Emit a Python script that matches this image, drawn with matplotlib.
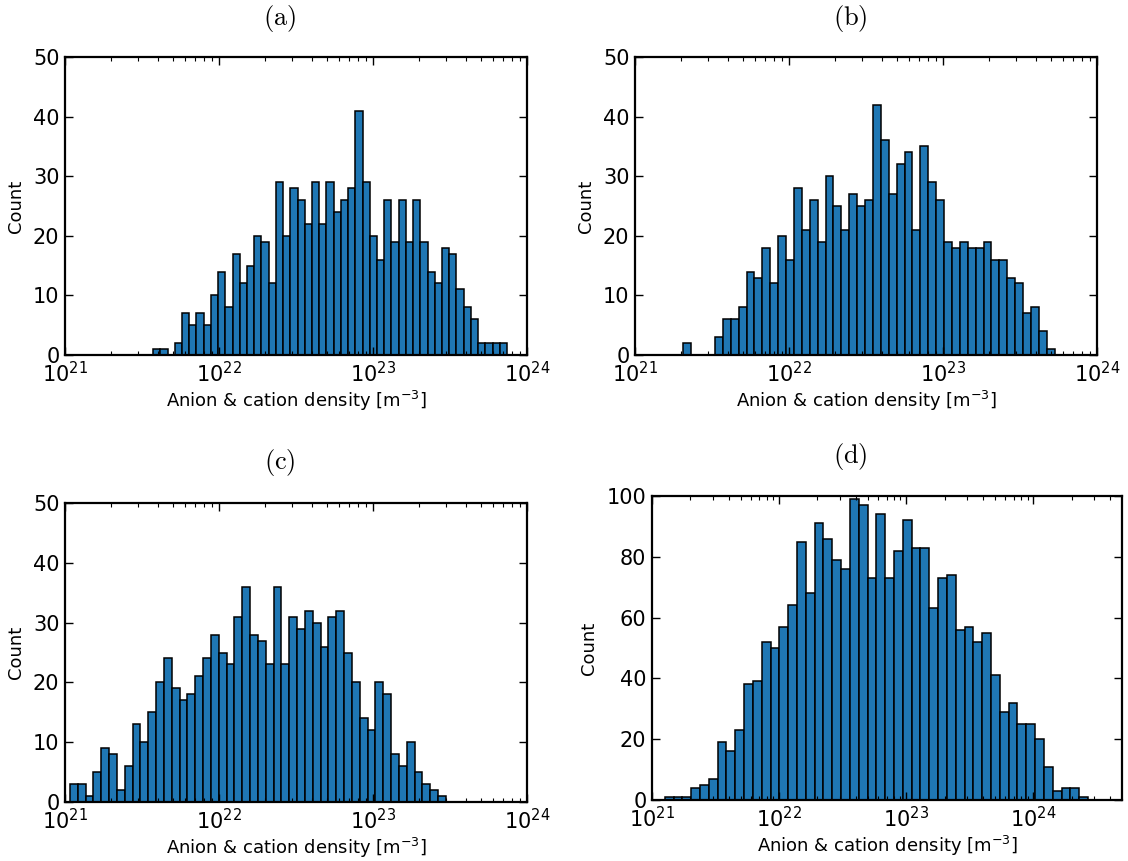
import matplotlib
matplotlib.use("Agg")
import matplotlib.pyplot as plt
import numpy as np

# histogram counts per log-spaced bin, one list per panel
counts_a = [1, 1, 0, 2, 7, 5, 7, 5, 10, 14, 8, 17, 12, 15, 20, 19, 12, 29, 20, 28,
            26, 22, 29, 22, 29, 24, 26, 28, 41, 29, 20, 16, 26, 19, 26, 19, 26, 19, 14, 12,
            18, 17, 11, 8, 6, 2, 2, 2, 2]
counts_b = [2, 0, 0, 0, 3, 6, 6, 8, 14, 13, 18, 12, 20, 16, 28, 21, 26, 19, 30, 25,
            21, 27, 25, 26, 42, 36, 27, 32, 34, 21, 35, 29, 26, 19, 18, 19, 18, 18, 19, 16,
            16, 13, 12, 7, 8, 4, 1]
counts_c = [3, 3, 1, 5, 9, 8, 2, 6, 13, 10, 15, 20, 24, 19, 17, 18, 21, 24, 28, 25,
            23, 31, 36, 28, 27, 23, 36, 23, 31, 29, 32, 30, 26, 31, 32, 25, 20, 14, 12, 20,
            18, 8, 6, 10, 5, 3, 2, 1]
counts_d = [1, 1, 1, 4, 5, 7, 19, 16, 23, 38, 39, 52, 50, 57, 64, 85, 68, 91, 86, 79,
            76, 99, 97, 73, 94, 73, 82, 92, 83, 83, 63, 73, 74, 56, 57, 52, 55, 41, 29, 32,
            25, 25, 20, 11, 3, 4, 4, 1]

# log10 of the first and last bin edge for each panel
log_range_a = (21.572, 23.870)
log_range_b = (21.314, 23.725)
log_range_c = (21.032, 23.474)
log_range_d = (21.100, 24.430)

panel_labels = ["(a)", "(b)", "(c)", "(d)"]
xlabel = r"Anion & cation density [m$^{-3}$]"

W, H = 1128, 861
fig = plt.figure(figsize=(W / 100, H / 100), dpi=100)


def px_axes(left, top, right, bottom):
    return fig.add_axes([left / W, 1 - bottom / H, (right - left) / W, (bottom - top) / H])


def draw_panel(ax, counts, log_range, xlim, ylim, yticks, fs_tick=15, fs_label=13):
    edges = np.logspace(log_range[0], log_range[1], len(counts) + 1)
    ax.bar(edges[:-1], counts, width=np.diff(edges), align="edge",
           color="#1f77b4", edgecolor="black", linewidth=1.1)
    ax.set_xscale("log")
    ax.set_xlim(*xlim)
    ax.set_ylim(*ylim)
    ax.set_yticks(yticks)
    ax.set_xticks([1e21, 1e22, 1e23, 1e24])
    ax.tick_params(which="both", direction="in", top=True, right=True)
    ax.tick_params(which="major", length=6, width=1.0, labelsize=fs_tick, pad=4)
    ax.tick_params(which="minor", length=3, width=0.8)
    for spine in ax.spines.values():
        spine.set_linewidth(1.6)
    ax.set_xlabel(xlabel, fontsize=fs_label, labelpad=2)
    ax.set_ylabel("Count", fontsize=fs_label, labelpad=6)


ax_a = px_axes(65, 57, 527, 355)
ax_b = px_axes(635, 57, 1097, 355)
ax_c = px_axes(65, 503, 527, 802)
ax_d = px_axes(652, 496, 1122, 800)

draw_panel(ax_a, counts_a, log_range_a, (1e21, 1e24), (0, 50), range(0, 51, 10))
draw_panel(ax_b, counts_b, log_range_b, (1e21, 1e24), (0, 50), range(0, 51, 10))
draw_panel(ax_c, counts_c, log_range_c, (1e21, 1e24), (0, 50), range(0, 51, 10))
draw_panel(ax_d, counts_d, log_range_d, (1e21, 10 ** 24.697), (0, 100), range(0, 101, 20))

title_pos = [(280, 18), (850, 18), (280, 463), (850, 457)]
for text, (x, y) in zip(panel_labels, title_pos):
    fig.text(x / W, 1 - y / H, r"$\mathrm{" + text + "}$", ha="center", va="center",
             fontsize=19, math_fontfamily="cm")

fig.savefig("out.png", dpi=100)
